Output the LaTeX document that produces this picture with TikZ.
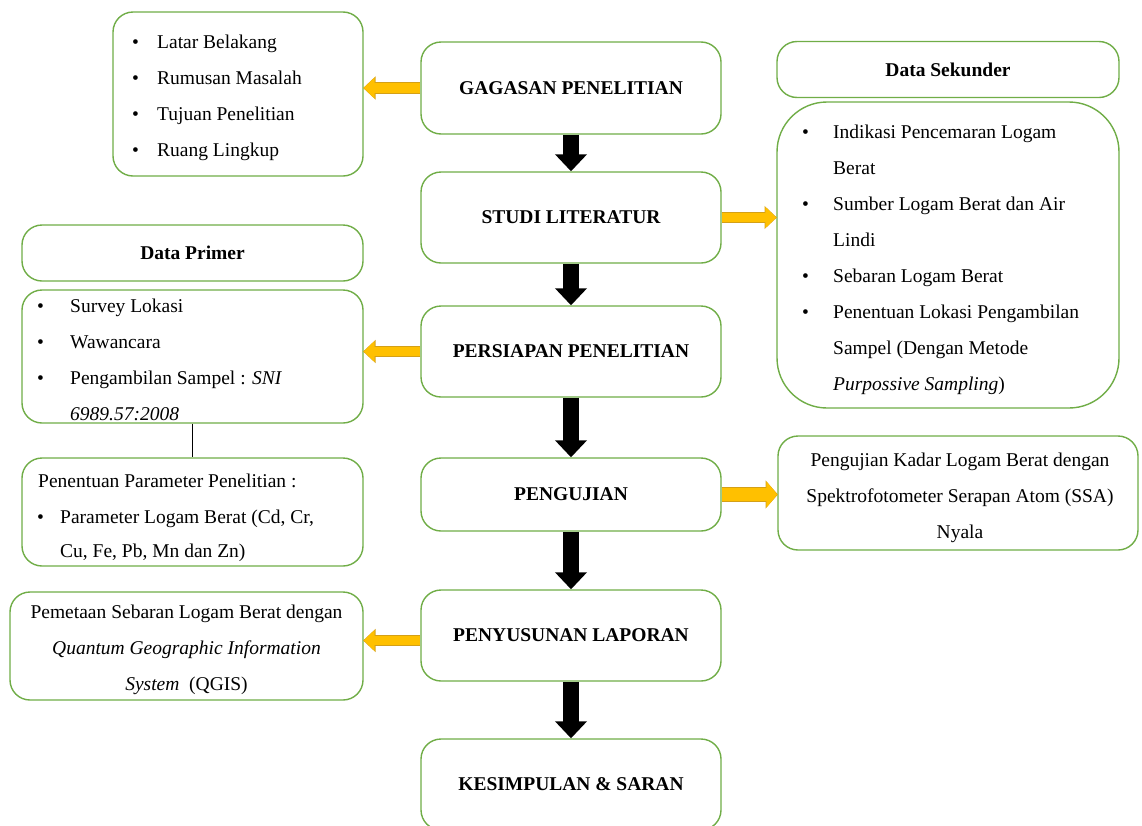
\documentclass[tikz,border=0pt]{standalone}
\usepackage{fontspec}
\setmainfont{Liberation Serif}
\usetikzlibrary{arrows.meta}
\definecolor{boxgreen}{HTML}{70AD47}
\definecolor{gold}{HTML}{FFC000}
\definecolor{golddark}{HTML}{D4A017}
\begin{document}
\begin{tikzpicture}[x=1pt,y=-1pt,
  every node/.style={font=\fontsize{19.5}{36}\selectfont, inner sep=0pt},
  box/.style={draw=boxgreen, line width=1.4pt, rounded corners=20pt, fill=white},
  main/.style={box, minimum width=300pt, font=\fontsize{19.5}{36}\selectfont\bfseries},
  ttl/.style={box, font=\fontsize{19.5}{36}\selectfont\bfseries},
  ln/.style={anchor=base west},
  lc/.style={anchor=base},
  down/.style={line width=16pt, -{Triangle[width=31pt,length=17pt]}},
  sideo/.style={golddark, line width=11.2pt, shorten >=-0.6pt, -{Triangle[width=22.4pt,length=12.4pt]}},
  side/.style={gold, line width=9.6pt, -{Triangle[width=20.6pt,length=11pt]}},
  sidebigo/.style={golddark, line width=14.2pt, shorten >=-0.6pt, -{Triangle[width=27.6pt,length=12.4pt]}},
  sidebig/.style={gold, line width=12.6pt, -{Triangle[width=25.8pt,length=11pt]}}
]
\useasboundingbox (0,0) rectangle (1142,825);

% main column
\node[main, minimum height=92pt] (gag) at (571,88) {GAGASAN PENELITIAN};
\node[main, minimum height=91pt] (stu) at (571,217.5) {STUDI LITERATUR};
\node[main, minimum height=91pt] (per) at (571,351.5) {PERSIAPAN PENELITIAN};
\node[main, minimum height=73pt] (peng) at (571,494.5) {PENGUJIAN};
\node[main, minimum height=91pt] (peny) at (571,635.5) {PENYUSUNAN LAPORAN};
\node[main, minimum height=91pt] (kes) at (571,784.5) {KESIMPULAN \& SARAN};

\draw[down] (gag.south) -- (stu.north);
\draw[down] (stu.south) -- (per.north);
\draw[down] (per.south) -- (peng.north);
\draw[down] (peng.south) -- (peny.north);
\draw[down] (peny.south) -- (kes.north);

% top-left list
\node[box, minimum width=250pt, minimum height=164pt] (tl) at (238,94) {};
\node[ln] (tlb1) at (132,48) {•}; \node[ln] (tlt1) at (157,48) {Latar Belakang};
\node[ln] (tlb2) at (132,84) {•}; \node[ln] (tlt2) at (157,84) {Rumusan Masalah};
\node[ln] (tlb3) at (132,120) {•}; \node[ln] (tlt3) at (157,120) {Tujuan Penelitian};
\node[ln] (tlb4) at (132,156) {•}; \node[ln] (tlt4) at (157,156) {Ruang Lingkup};
\draw[sideo] (gag.west) -- (gag.west -| tl.east);
\draw[side] (gag.west) -- (gag.west -| tl.east);

% right: Data Sekunder
\node[ttl, minimum width=342pt, minimum height=56pt] (sekt) at (948,69.5) {Data Sekunder};
\node[box, rounded corners=50pt, minimum width=342pt, minimum height=306pt] (sek) at (948,255) {};
\node[ln] (sb1) at (802,138) {•}; \node[ln] (st1) at (833,138) {Indikasi Pencemaran Logam};
\node[ln] (st1b) at (833,174) {Berat};
\node[ln] (sb2) at (802,210) {•}; \node[ln] (st2) at (833,210) {Sumber Logam Berat dan Air};
\node[ln] (st2b) at (833,246) {Lindi};
\node[ln] (sb3) at (802,282) {•}; \node[ln] (st3) at (833,282) {Sebaran Logam Berat};
\node[ln] (sb4) at (802,318) {•}; \node[ln] (st4) at (833,318) {Penentuan Lokasi Pengambilan};
\node[ln] (st4b) at (833,354) {Sampel (Dengan Metode};
\node[ln] (st4c) at (833,390) {\itshape Purpossive Sampling\upshape)};
\draw[sideo] (stu.east) -- (stu.east -| sek.west);
\draw[side] (stu.east) -- (stu.east -| sek.west);

% right: pengujian detail
\node[box, minimum width=360pt, minimum height=114pt] (pr) at (958,493) {};
\node[lc] (pr1) at (960,466) {Pengujian Kadar Logam Berat dengan};
\node[lc] (pr2) at (960,502) {Spektrofotometer Serapan Atom (SSA)};
\node[lc] (pr3) at (960,538) {Nyala};
\draw[sidebigo] (peng.east) -- (peng.east -| pr.west);
\draw[sidebig] (peng.east) -- (peng.east -| pr.west);

% left: Data Primer
\node[ttl, minimum width=341pt, minimum height=56pt] (pmt) at (192.5,253) {Data Primer};
\node[box, minimum width=341pt, minimum height=133pt] (pm) at (192.5,356.5) {};
\node[ln] (pb1) at (37,312) {•}; \node[ln] (pt1) at (70,312) {Survey Lokasi};
\node[ln] (pb2) at (37,348) {•}; \node[ln] (pt2) at (70,348) {Wawancara};
\node[ln] (pb3) at (37,384) {•}; \node[ln] (pt3) at (70,384) {Pengambilan Sampel : \itshape SNI};
\node[ln] (pt3b) at (70,420) {\itshape 6989.57:2008};
\draw[sideo] (per.west) -- (per.west -| pm.east);
\draw[side] (per.west) -- (per.west -| pm.east);

\node[box, minimum width=341pt, minimum height=108pt] (pen) at (192.5,512) {};
\draw[line width=0.9pt] (pm.south) -- (pen.north);
\node[ln] (pe1) at (38,487) {Penentuan Parameter Penelitian :};
\node[ln] (peb2) at (37,523) {•}; \node[ln] (pe2) at (60,523) {Parameter Logam Berat (Cd, Cr,};
\node[ln] (pe3) at (60,557) {Cu, Fe, Pb, Mn dan Zn)};

% left: pemetaan
\node[box, minimum width=353pt, minimum height=108pt] (pem) at (186.5,646) {};
\node[lc] (pm1) at (186.5,618) {Pemetaan Sebaran Logam Berat dengan};
\node[lc] (pm2) at (186.5,654) {\itshape Quantum Geographic Information};
\node[lc] (pm3) at (186.5,690) {\itshape System\upshape~ (QGIS)};
\draw[sideo] ([yshift=-5pt]peny.west) -- ([yshift=-5pt]peny.west -| pem.east);
\draw[side] ([yshift=-5pt]peny.west) -- ([yshift=-5pt]peny.west -| pem.east);
\end{tikzpicture}
\end{document}
